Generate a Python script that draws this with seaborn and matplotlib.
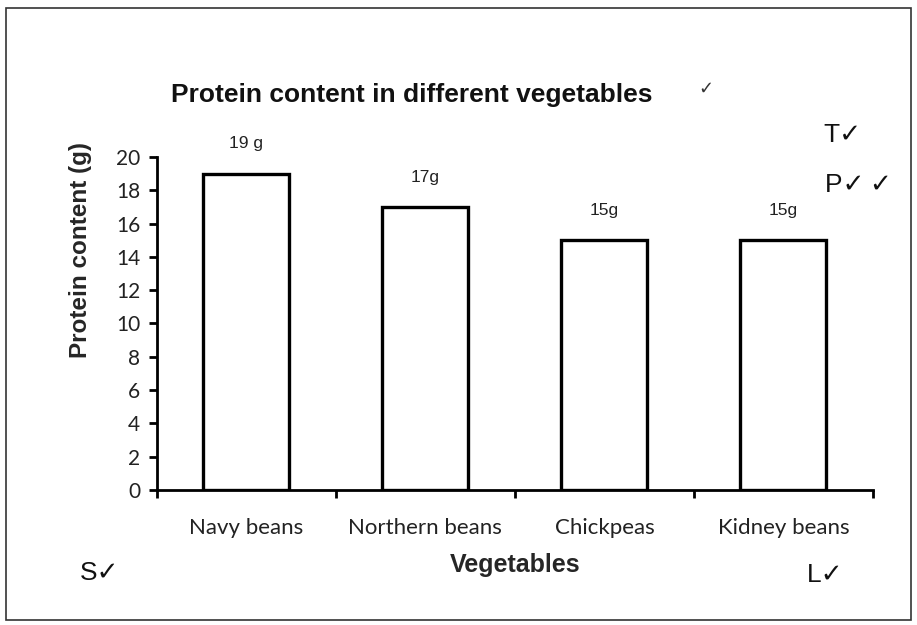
import matplotlib
matplotlib.use("Agg")
import matplotlib.pyplot as plt
import seaborn as sns
import pandas as pd
from matplotlib.patches import Rectangle
from matplotlib.ticker import FixedLocator, NullFormatter

categories = ["Navy beans", "Northern beans", "Chickpeas", "Kidney beans"]
protein = [19, 17, 15, 15]
bar_labels = ["19 g", "17g", "15g", "15g"]
yticks = [0, 2, 4, 6, 8, 10, 12, 14, 16, 18, 20]

df = pd.DataFrame({"Vegetables": categories, "Protein": protein})

sns.set_theme(style="white")
plt.rcParams["font.family"] = ["Liberation Sans", "DejaVu Sans"]

fig = plt.figure(figsize=(9.17, 6.25), dpi=100)
ax = fig.add_axes([0.171, 0.216, 0.781, 0.533])

sns.barplot(data=df, x="Vegetables", y="Protein", ax=ax, color="white",
            edgecolor="black", linewidth=2.4, width=0.48, saturation=1)

ax.set_ylim(0, 20)
ax.set_xlim(-0.5, len(categories) - 0.5)
ax.set_yticks(yticks)
ax.set_yticklabels([str(v) for v in yticks], fontfamily="Lato", fontsize=15, color="#222222")
ax.set_xticks(range(len(categories)))
ax.set_xticklabels(categories, fontfamily="Lato", fontsize=16, color="#222222")
ax.tick_params(axis="x", which="major", length=0, pad=20)
ax.xaxis.set_minor_locator(FixedLocator([i - 0.5 for i in range(len(categories) + 1)]))
ax.xaxis.set_minor_formatter(NullFormatter())
ax.tick_params(axis="x", which="minor", length=6, width=2, color="black", bottom=True)
ax.tick_params(axis="y", length=6, width=2, color="black", left=True, pad=6)

for s in ["top", "right"]:
    ax.spines[s].set_visible(False)
for s in ["left", "bottom"]:
    ax.spines[s].set_color("black")
    ax.spines[s].set_linewidth(2)

for i, (v, lab) in enumerate(zip(protein, bar_labels)):
    ax.annotate(lab, (i, v), xytext=(0, 16), textcoords="offset points",
                ha="center", va="bottom", fontsize=12.5, color="#222222")

ax.set_xlabel("Vegetables", fontsize=18, fontweight="bold")
ax.xaxis.set_label_coords(0.5, -0.19)
ax.set_ylabel("Protein content (g)", fontsize=17.5, fontweight="bold")
ax.yaxis.set_label_coords(-0.09, 0.72)

fig.text(0.449, 0.848, "Protein content in different vegetables", ha="center", va="center",
         fontsize=19, fontweight="bold", color="#111111")
fig.text(0.770, 0.858, "\u2713", ha="center", va="center", fontsize=13,
         family=["DejaVu Sans"], color="#333333")

mark_kw = dict(fontsize=19, family=["Liberation Sans", "DejaVu Sans"], color="#111111",
               va="center", ha="left")
fig.text(0.898, 0.784, "T\u2713", **mark_kw)
fig.text(0.900, 0.704, "P\u2713\u2009\u2713", **mark_kw)
fig.text(0.087, 0.083, "S\u2713", **mark_kw)
fig.text(0.880, 0.080, "L\u2713", **mark_kw)

fig.patches.append(Rectangle((0.006, 0.008), 0.988, 0.98, transform=fig.transFigure,
                             fill=False, edgecolor="#333333", linewidth=1.2))

fig.savefig("out.png", dpi=100)
